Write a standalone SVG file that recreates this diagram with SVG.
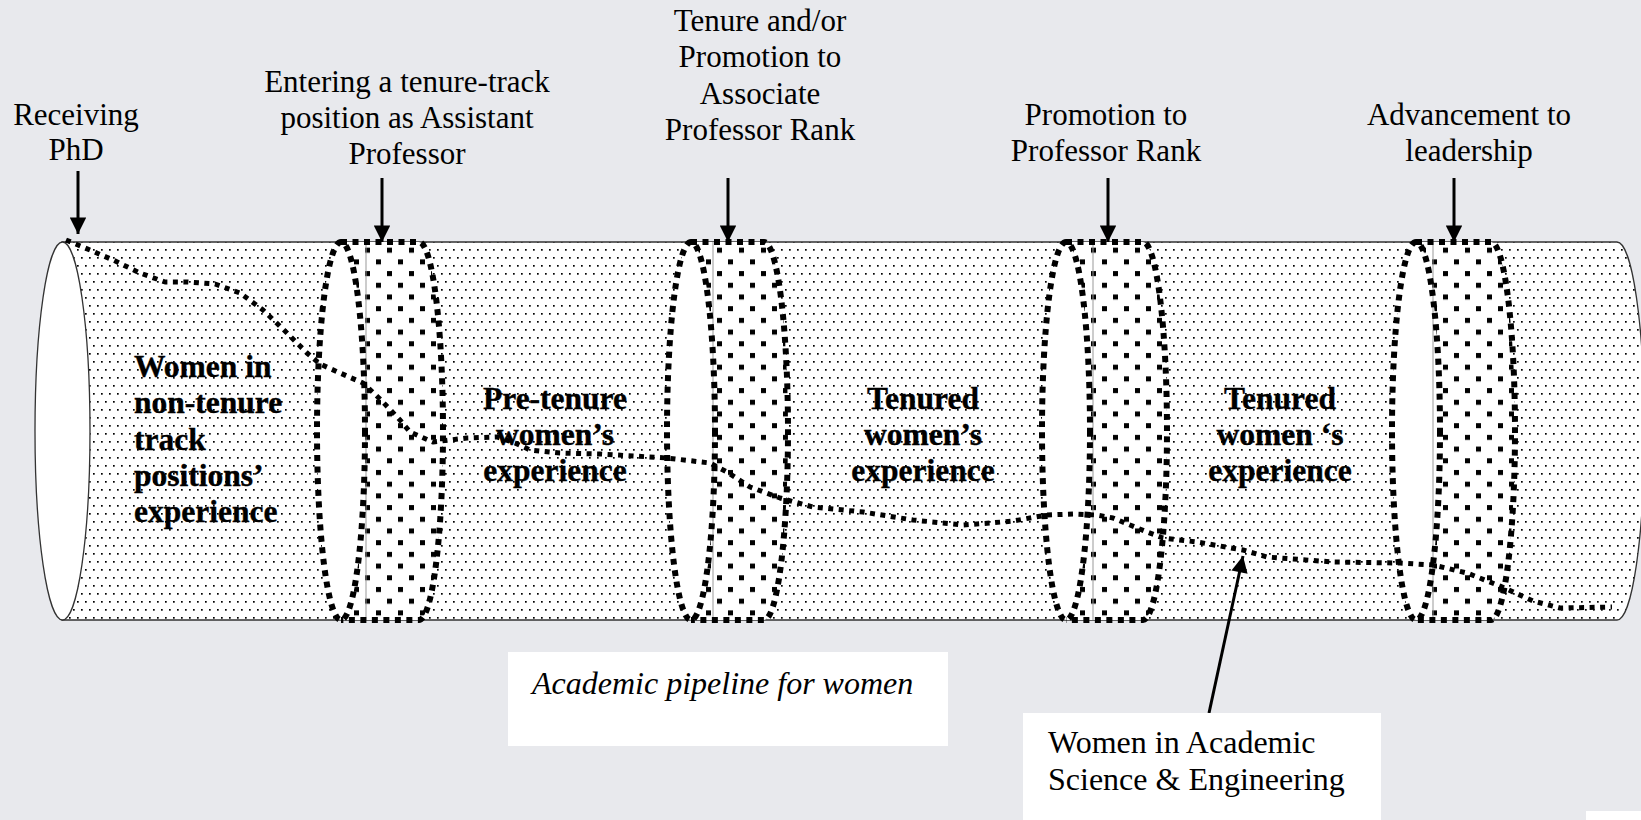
<svg xmlns="http://www.w3.org/2000/svg" width="1641" height="820" viewBox="0 0 1641 820">
<style>
.lbl{font-family:"Liberation Serif","Times New Roman",serif;font-size:31px;fill:#000;text-anchor:middle}
.bold{font-family:"Liberation Serif","Times New Roman",serif;font-size:31.5px;font-weight:bold;fill:#000;stroke:#000;stroke-width:0.4}
.ctr{text-anchor:middle}
.box{font-family:"Liberation Serif","Times New Roman",serif;font-size:32px;fill:#000}
.ringline{fill:none;stroke:#000;stroke-width:6;stroke-dasharray:6 5.5}
.thin{stroke:#999;stroke-width:1}
.arrow{stroke:#000;stroke-width:3;fill:none}
</style>
<defs>
<pattern id="small" width="8" height="16" patternUnits="userSpaceOnUse">
<rect width="8" height="16" fill="#fff"/>
<rect x="1" y="1" width="1.7" height="1.7" fill="#000"/>
<rect x="5" y="9" width="1.7" height="1.7" fill="#000"/>
</pattern>
<pattern id="big" width="22" height="23.4" patternUnits="userSpaceOnUse">
<rect width="22" height="23.4" fill="#fff"/>
<rect x="2" y="2" width="5" height="5" fill="#000"/>
<rect x="13" y="13.7" width="5" height="5" fill="#000"/>
</pattern>
<marker id="ah" viewBox="0 0 10 10" refX="10" refY="5" markerWidth="6" markerHeight="5.5" markerUnits="strokeWidth" orient="auto">
<path d="M0,0 L10,5 L0,10 Z" fill="#000"/>
</marker>
</defs>
<rect width="1641" height="820" fill="#e8e9ed"/>

<g id="pipeline">
<path d="M62,242 H1617 A27.5 189 0 0 1 1617,620 H62 Z" fill="url(#small)" stroke="#333" stroke-width="1.3"/>
<ellipse cx="62.5" cy="431" rx="27.5" ry="189" fill="#fff" stroke="#333" stroke-width="1.3"/>
</g>

<g id="ring1">
<path d="M341,242 H419 A24 189 0 0 1 419,620 H341 Z" fill="url(#big)"/>
<ellipse cx="341" cy="431" rx="24" ry="189" fill="#fff"/>
<line class="thin" x1="366" y1="242" x2="366" y2="620"/>
<path class="ringline" d="M341,242 H419 A24 189 0 0 1 419,620 H341"/>
<ellipse class="ringline" cx="341" cy="431" rx="24" ry="189"/>
</g>
<g id="ring2">
<path d="M691,242 H764 A24 189 0 0 1 764,620 H691 Z" fill="url(#big)"/>
<ellipse cx="691" cy="431" rx="24" ry="189" fill="#fff"/>
<line class="thin" x1="713" y1="242" x2="713" y2="620"/>
<path class="ringline" d="M691,242 H764 A24 189 0 0 1 764,620 H691"/>
<ellipse class="ringline" cx="691" cy="431" rx="24" ry="189"/>
</g>
<g id="ring3">
<path d="M1066,242 H1143 A24 189 0 0 1 1143,620 H1066 Z" fill="url(#big)"/>
<ellipse cx="1066" cy="431" rx="24" ry="189" fill="#fff"/>
<line class="thin" x1="1093" y1="242" x2="1093" y2="620"/>
<path class="ringline" d="M1066,242 H1143 A24 189 0 0 1 1143,620 H1066"/>
<ellipse class="ringline" cx="1066" cy="431" rx="24" ry="189"/>
</g>
<g id="ring4">
<path d="M1416,242 H1491 A24 189 0 0 1 1491,620 H1416 Z" fill="url(#big)"/>
<ellipse cx="1416" cy="431" rx="24" ry="189" fill="#fff"/>
<line class="thin" x1="1433" y1="242" x2="1433" y2="620"/>
<path class="ringline" d="M1416,242 H1491 A24 189 0 0 1 1491,620 H1416"/>
<ellipse class="ringline" cx="1416" cy="431" rx="24" ry="189"/>
</g>

<g id="stage-labels">
<text class="bold" x="134" y="377">Women in</text>
<text class="bold" x="134" y="413">non-tenure</text>
<text class="bold" x="134" y="450">track</text>
<text class="bold" x="134" y="486">positions’</text>
<text class="bold" x="134" y="522">experience</text>
<text class="bold ctr" x="555" y="409">Pre-tenure</text>
<text class="bold ctr" x="555" y="445">women’s</text>
<text class="bold ctr" x="555" y="481">experience</text>
<text class="bold ctr" x="923" y="409">Tenured</text>
<text class="bold ctr" x="923" y="445">women’s</text>
<text class="bold ctr" x="923" y="481">experience</text>
<text class="bold ctr" x="1280" y="409">Tenured</text>
<text class="bold ctr" x="1280" y="445">women ‘s</text>
<text class="bold ctr" x="1280" y="481">experience</text>
</g>

<g id="connectors">
<path d="M66,240 L90,250 L113,260 L140,273 L165,282 L187,282 L215,284 L240,293 L263,310 L287,333 L307,353 L320,364 L340,373 L363,383 L380,399 L400,420 L410,432 L433,442 L467,438 L497,437 L515,443 L530,450 L560,453 L600,454 L667,458 L710,463 L727,472 L750,487 L780,498 L813,507 L863,512 L913,520 L963,525 L990,523 L1013,521 L1047,515 L1073,514 L1097,515 L1113,518 L1130,525 L1147,532 L1163,538 L1197,542 L1243,550 L1267,557 L1333,562 L1400,563 L1433,565 L1467,573 L1500,586 L1533,601 L1560,608 L1612,607" fill="none" stroke="#000" stroke-width="5" stroke-dasharray="5 5.5" stroke-linejoin="round"/>
<line class="arrow" x1="78" y1="171" x2="78" y2="234" marker-end="url(#ah)"/>
<line class="arrow" x1="382" y1="178" x2="382" y2="242" marker-end="url(#ah)"/>
<line class="arrow" x1="728" y1="178" x2="728" y2="242" marker-end="url(#ah)"/>
<line class="arrow" x1="1108" y1="178" x2="1108" y2="242" marker-end="url(#ah)"/>
<line class="arrow" x1="1454" y1="178" x2="1454" y2="242" marker-end="url(#ah)"/>
<line class="arrow" x1="1209" y1="713" x2="1243" y2="556" marker-end="url(#ah)"/>
</g>

<g id="label-phd">
<text class="lbl" x="76" y="125">Receiving</text>
<text class="lbl" x="76" y="160">PhD</text>
</g>
<g id="label-assistant">
<text class="lbl" x="407" y="92">Entering a tenure-track</text>
<text class="lbl" x="407" y="128">position as Assistant</text>
<text class="lbl" x="407" y="164">Professor</text>
</g>
<g id="label-associate">
<text class="lbl" x="760" y="31">Tenure and/or</text>
<text class="lbl" x="760" y="67">Promotion to</text>
<text class="lbl" x="760" y="104">Associate</text>
<text class="lbl" x="760" y="140">Professor Rank</text>
</g>
<g id="label-professor">
<text class="lbl" x="1106" y="125">Promotion to</text>
<text class="lbl" x="1106" y="161">Professor Rank</text>
</g>
<g id="label-leadership">
<text class="lbl" x="1469" y="125">Advancement to</text>
<text class="lbl" x="1469" y="161">leadership</text>
</g>

<g id="caption">
<rect x="508" y="652" width="440" height="94" fill="#fff"/>
<text class="box" x="532" y="694" font-style="italic" font-size="31">Academic pipeline for women</text>
</g>
<g id="women-box">
<rect x="1023" y="713" width="358" height="107" fill="#fff"/>
<text class="box" x="1048" y="753">Women in Academic</text>
<text class="box" x="1048" y="790">Science &amp; Engineering</text>
</g>
<rect x="1586" y="811" width="55" height="9" fill="#fff"/>
</svg>
